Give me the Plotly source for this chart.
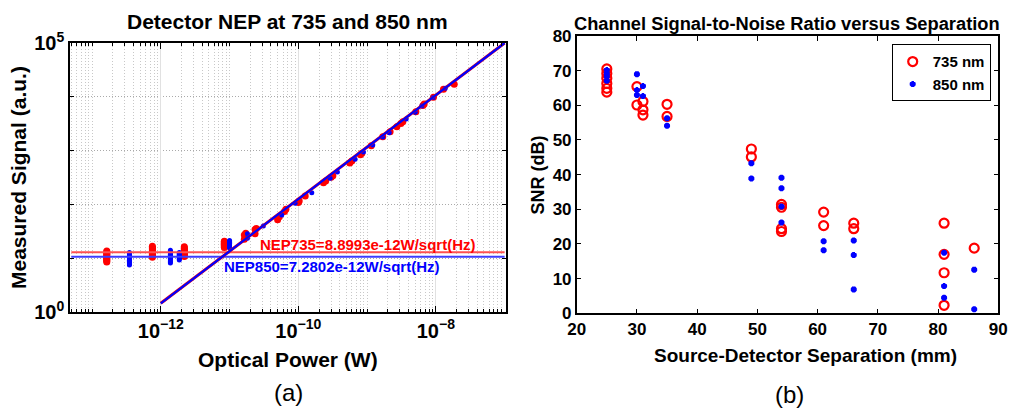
import plotly.graph_objects as go

# ---------------- Panel (a): Detector NEP ----------------
# low-power clusters (noise floor), each with several repeated measurements
red_low_x = [1.64e-13, 7.55e-13, 2.2e-12, 8.4e-12]
red_low_y = [
    [13.6, 13.0, 12.4, 11.8, 11.2, 10.6, 10.1, 9.7, 9.3, 8.9, 8.5],
    [16.7, 15.8, 15.0, 14.2, 13.5, 12.8, 12.2, 11.7, 11.2, 10.8, 10.4],
    [16.3, 15.5, 14.8, 14.1, 13.5, 12.9, 12.3, 11.9, 11.5, 11.1, 10.8],
    [20.7, 20.0, 19.4, 18.8, 18.2, 17.6, 17.0, 16.4, 15.8],
]
blue_low_x = [3.5e-13, 1.38e-12, 1.86e-12, 1.0e-11]
blue_low_y = [
    [12.8, 12.1, 11.5, 10.9, 10.3, 9.7, 9.2, 8.7, 8.2, 7.8, 7.5],
    [14.0, 13.3, 12.6, 11.9, 11.2, 10.6, 10.0, 9.4, 8.9, 8.5, 8.1],
    [12.8, 12.3, 11.9, 11.4, 11.0, 10.5, 10.1, 9.7, 9.3],
    [21.3, 20.5, 19.8, 19.0, 18.3, 17.5, 16.8, 16.1, 15.5],
]
# linear-region measurements
red_rise_x = [1.64e-11, 1.64e-11, 1.72e-11, 2.35e-11, 2.35e-11, 2.45e-11, 5.0e-11, 5.3e-11,
              6.3e-11, 6.6e-11, 1.0e-10, 1.03e-10, 1.26e-10, 2.32e-10, 2.5e-10, 3.0e-10, 3.18e-10,
              5.6e-10, 6.0e-10, 8.0e-10, 8.4e-10, 1.15e-9, 1.69e-9, 2.16e-9, 2.71e-9,
              3.1e-9, 3.31e-9, 5.12e-9, 6.5e-9, 6.76e-9, 9.23e-9, 1.29e-8, 1.85e-8]
red_rise_y = [22.5, 27.0, 29.0, 28.5, 34.0, 35.5, 52, 59,
              74, 81, 108, 116, 143, 253, 272, 320, 341,
              590, 641, 840, 891, 1233, 1813, 2244, 2780,
              3200, 3444, 5284, 6900, 7345, 9790, 13780, 17070]
blue_rise_x = [1.82e-11, 1.82e-11, 3.1e-11, 5.75e-11, 8.98e-11, 1.57e-10, 2.9e-10, 3.7e-10,
               6.7e-10, 8.85e-10, 1.21e-9, 1.69e-9, 2.1e-9, 3.7e-9, 5.0e-9, 6.25e-9, 9.1e-9,
               1.37e-8]
blue_rise_y = [23.5, 28.5, 39.7, 63.5, 105, 165, 305, 400,
               689, 942, 1270, 1790, 2150, 3865, 5150, 6745, 9700,
               14400]

nep735_level = 12.9
nep850_level = 10.6
fit_x = [1e-12, 1e-7]
fit_y735 = [1.45, 1e5]
fit_y850 = [1.45, 1e5]
nep735_text = "NEP735=8.8993e-12W/sqrt(Hz)"
nep850_text = "NEP850=7.2802e-12W/sqrt(Hz)"

x_ticks_a = [1e-12, 1e-10, 1e-8]
x_ticktext_a = ["10<sup>\u221212</sup>", "10<sup>\u221210</sup>", "10<sup>\u22128</sup>"]
y_ticks_a = [1, 1e5]
y_ticktext_a = ["10<sup>0</sup>", "10<sup>5</sup>"]

# ---------------- Panel (b): SNR vs separation ----------------
snr735_x = [25, 25, 25, 25, 25, 25, 30, 30, 31, 31, 31, 35, 35, 49, 49,
            54, 54, 54, 54, 61, 61, 66, 66, 81, 81, 81, 81, 86]
snr735_y = [70.5, 69.2, 67.8, 66.3, 64.9, 63.8, 65.4, 60.1, 61.1, 58.7, 57.2, 60.3, 56.8, 47.4, 45.1,
            31.4, 30.6, 24.4, 23.6, 29.2, 25.3, 26.0, 24.4, 26.0, 17.0, 11.7, 2.3, 18.8]
snr850_x = [25, 25, 25, 25, 30, 30, 30, 31, 31, 35, 35, 49, 49,
            54, 54, 54, 54, 61, 61, 66, 66, 66, 81, 81, 81, 86, 86]
snr850_y = [70.2, 69.2, 68.3, 67.1, 69.0, 64.4, 63.0, 65.6, 62.7, 56.3, 54.1, 43.3, 38.9,
            39.1, 36.1, 30.8, 26.2, 20.8, 18.2, 21.0, 16.8, 6.9, 17.5, 7.9, 4.5, 12.6, 1.2]

RED = "rgb(255,0,0)"
BLUE = "rgb(0,0,255)"
FONT = "Liberation Sans, Arial, Helvetica, sans-serif"

fig = go.Figure()

def flat(xs, yss):
    X, Y = [], []
    for x, ys in zip(xs, yss):
        for y in ys:
            X.append(x)
            Y.append(y)
    return X, Y

rx, ry = flat(red_low_x, red_low_y)
bx, by = flat(blue_low_x, blue_low_y)

fig.add_trace(go.Scatter(x=rx + red_rise_x, y=ry + red_rise_y, mode="markers",
                         marker=dict(color=RED, size=7, symbol="circle"),
                         xaxis="x", yaxis="y", showlegend=False))
fig.add_trace(go.Scatter(x=bx + blue_rise_x, y=by + blue_rise_y, mode="markers",
                         marker=dict(color=BLUE, size=5, symbol="circle"),
                         xaxis="x", yaxis="y", showlegend=False))
fig.add_trace(go.Scatter(x=[5e-14, 1e-7], y=[nep735_level, nep735_level], mode="lines",
                         line=dict(color="rgb(255,80,80)", width=2),
                         xaxis="x", yaxis="y", showlegend=False))
fig.add_trace(go.Scatter(x=[5e-14, 1e-7], y=[nep850_level, nep850_level], mode="lines",
                         line=dict(color="rgb(60,60,255)", width=2),
                         xaxis="x", yaxis="y", showlegend=False))
fig.add_trace(go.Scatter(x=fit_x, y=fit_y735, mode="lines",
                         line=dict(color=RED, width=3),
                         xaxis="x", yaxis="y", showlegend=False))
fig.add_trace(go.Scatter(x=fit_x, y=fit_y850, mode="lines",
                         line=dict(color=BLUE, width=2.2),
                         xaxis="x", yaxis="y", showlegend=False))

fig.add_trace(go.Scatter(x=snr735_x, y=snr735_y, mode="markers", name="735 nm",
                         marker=dict(color=RED, size=9, symbol="circle-open", line=dict(width=2.2, color=RED)),
                         xaxis="x2", yaxis="y2"))
fig.add_trace(go.Scatter(x=snr850_x, y=snr850_y, mode="markers", name="850 nm",
                         marker=dict(color=BLUE, size=5, symbol="asterisk-open", line=dict(width=2.5, color=BLUE)),
                         xaxis="x2", yaxis="y2"))

# minor grid positions for log axes
x_minor = []
for n in range(-14, -7):
    for k in range(1, 10):
        v = k * 10.0 ** n
        if v not in x_ticks_a:
            x_minor.append(v)
y_minor = [10.0 ** n for n in range(1, 5)]

W, H = 1011, 408
def px(x):
    return x / W
def py(y):
    return 1 - y / H

axis_common = dict(showline=True, linecolor="black", linewidth=1.5, mirror="allticks",
                   ticks="inside", tickcolor="black", zeroline=False, automargin=False)

fig.update_layout(
    width=W, height=H, margin=dict(l=0, r=0, t=0, b=0, autoexpand=False),
    paper_bgcolor="white", plot_bgcolor="white",
    font=dict(family=FONT, color="black"),
    xaxis=dict(domain=[px(70), px(506)], type="log", range=[-13.32, -6.98],
               tickmode="array", tickvals=x_ticks_a, ticktext=x_ticktext_a,
               tickfont=dict(size=20, weight="bold"), ticklen=6,
               showgrid=True, gridcolor="rgb(225,225,225)", gridwidth=1,
               minor=dict(tickmode="array", tickvals=x_minor, ticks="inside", ticklen=3,
                          tickcolor="black", showgrid=True, gridcolor="rgb(200,200,200)",
                          griddash="1px,2px", gridwidth=1),
               anchor="y", **axis_common),
    yaxis=dict(domain=[py(312), py(43)], type="log", range=[0, 5],
               tickmode="array", tickvals=y_ticks_a, ticktext=y_ticktext_a,
               tickfont=dict(size=20, weight="bold"), ticklen=6,
               showgrid=False,
               minor=dict(tickmode="array", tickvals=y_minor, ticks="inside", ticklen=4,
                          tickcolor="black", showgrid=True, gridcolor="rgb(170,170,170)",
                          griddash="1px,2px", gridwidth=1),
               anchor="x", **axis_common),
    xaxis2=dict(domain=[px(576.7), px(998.3)], range=[20, 90], dtick=10, tick0=20,
                tickfont=dict(size=17, weight="bold"), ticklen=5, showgrid=False,
                anchor="y2", **axis_common),
    yaxis2=dict(domain=[py(313.3), py(36)], range=[0, 80], dtick=10, tick0=0,
                tickfont=dict(size=17, weight="bold"), ticklen=5, showgrid=False,
                anchor="x2", **axis_common),
    legend=dict(x=px(990.7), y=py(44.3), xanchor="right", yanchor="top",
                bgcolor="white", bordercolor="black", borderwidth=1,
                font=dict(size=15, weight="bold", family=FONT), itemwidth=30,
                tracegroupgap=0),
)

ann = [
    dict(text="<b>Detector NEP at 735 and 850 nm</b>", x=px(287.5), y=py(21.7), size=21),
    dict(text="<b>Optical Power (W)</b>", x=px(287.5), y=py(359), size=21),
    dict(text="<b>Measured Signal (a.u.)</b>", x=px(18.5), y=py(177.5), size=21, angle=-90),
    dict(text="<b>Channel Signal-to-Noise Ratio versus Separation</b>", x=px(786.7), y=py(23.3), size=18.3),
    dict(text="<b>Source-Detector Separation (mm)</b>", x=px(805.5), y=py(355), size=19),
    dict(text="<b>SNR (dB)</b>", x=px(537.5), y=py(175), size=18, angle=-90),
    dict(text="(a)", x=px(288), y=py(392), size=24),
    dict(text="(b)", x=px(789), y=py(394), size=24),
]
for a in ann:
    fig.add_annotation(text=a["text"], x=a["x"], y=a["y"], xref="paper", yref="paper",
                       xanchor="center", yanchor="middle", showarrow=False,
                       textangle=a.get("angle", 0),
                       font=dict(size=a["size"], family=FONT, color="black"))

fig.add_annotation(text="<b>" + nep735_text + "</b>", x=px(258.3), y=py(244), xref="paper", yref="paper",
                   xanchor="left", yanchor="middle", showarrow=False,
                   font=dict(size=15, family=FONT, color=RED))
fig.add_annotation(text="<b>" + nep850_text + "</b>", x=px(221.7), y=py(266.7), xref="paper", yref="paper",
                   xanchor="left", yanchor="middle", showarrow=False,
                   font=dict(size=15, family=FONT, color=BLUE))

fig.write_html("out.html")
